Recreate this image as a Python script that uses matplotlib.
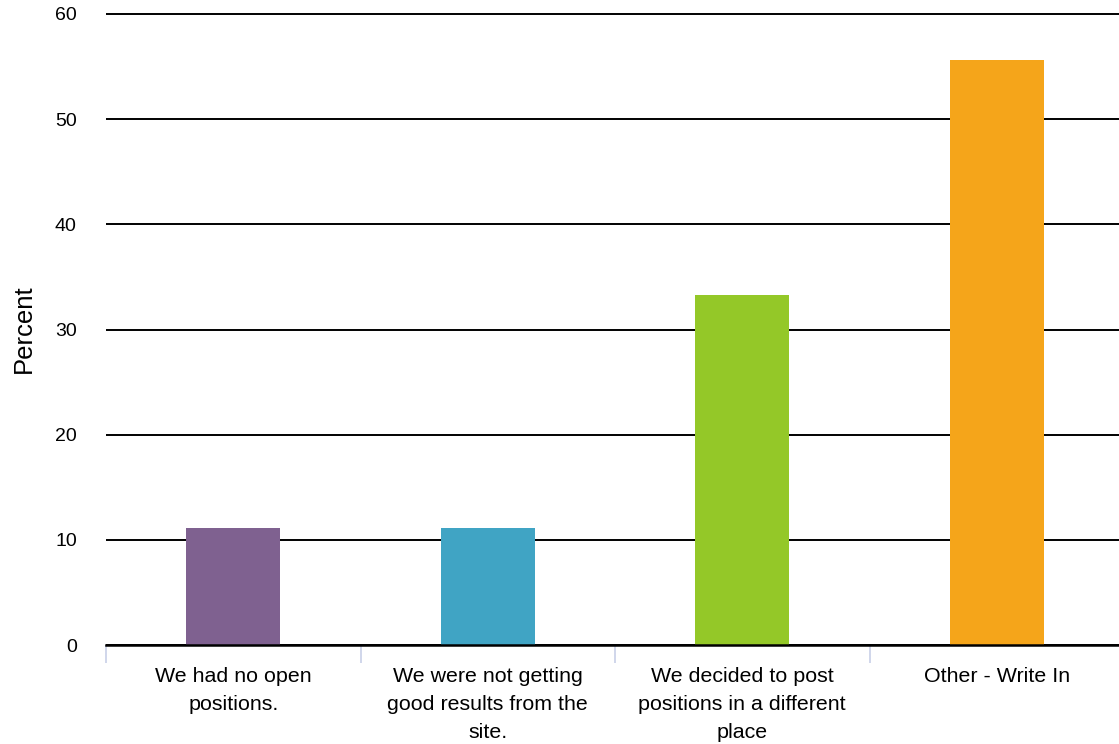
import matplotlib.pyplot as plt
from matplotlib.ticker import FixedLocator

plt.rcParams['font.family'] = ['Liberation Sans', 'DejaVu Sans']

categories = ["We had no open\npositions.",
              "We were not getting\ngood results from the\nsite.",
              "We decided to post\npositions in a different\nplace",
              "Other - Write In"]
values = [11.1, 11.1, 33.3, 55.6]
colors = ['#7f6190', '#40a4c4', '#94c828', '#f5a51a']
yticks = [0, 10, 20, 30, 40, 50, 60]

fig = plt.figure(figsize=(11.19, 7.44), dpi=100)
# 0 at y=645px, 60 at y=14px; top slightly above 60 so the top gridline is not clipped
ax = fig.add_axes([106 / 1119, 1 - 645 / 744, 1018 / 1119, 633 / 744])

x = range(len(categories))
ax.bar(x, values, width=0.37, color=colors, zorder=3)

ax.set_ylim(0, 60 * 633 / 631)
ax.set_xlim(-0.5, len(categories) - 0.5)
ax.set_yticks(yticks)
ax.yaxis.grid(True, color='black', linewidth=1.4, zorder=1)
ax.set_axisbelow(True)

for s in ['top', 'right', 'left']:
    ax.spines[s].set_visible(False)
ax.spines['bottom'].set_color('black')
ax.spines['bottom'].set_linewidth(1.8)
ax.spines['bottom'].set_zorder(4)

ax.set_xticks(list(x))
ax.set_xticklabels(categories, fontsize=15.4, linespacing=1.6, va='top')
ax.xaxis.set_minor_locator(FixedLocator([-0.5, 0.5, 1.5, 2.5]))
ax.tick_params(axis='x', which='major', length=0, pad=15.5)
ax.tick_params(axis='x', which='minor', length=13, width=1.2, color='#c8d0e8', direction='out')
ax.tick_params(axis='y', length=0, pad=21, labelsize=14)

ax.set_ylabel('Percent', fontsize=18.5)
ax.yaxis.set_label_coords(-70 / 1018, 0.5)

fig.savefig('out.png', dpi=100)
